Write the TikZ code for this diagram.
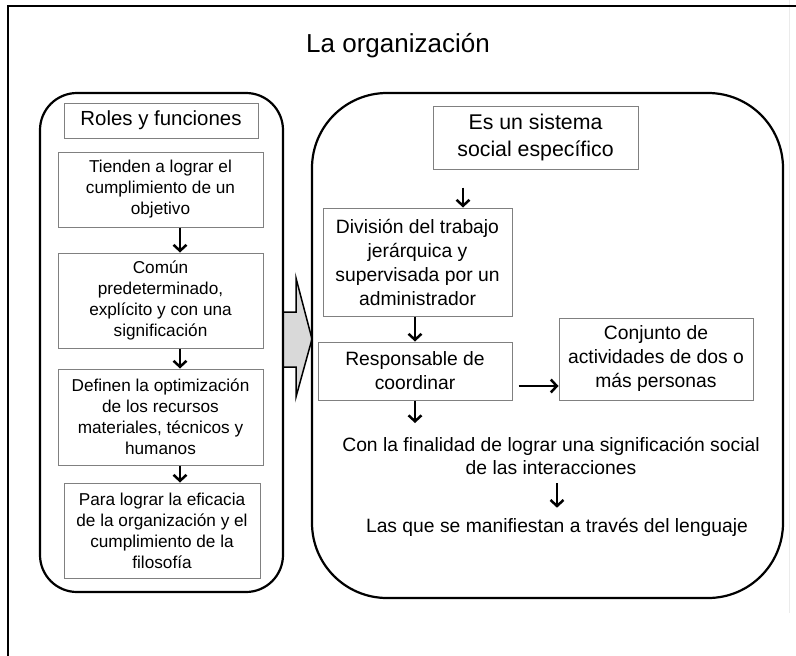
\documentclass[tikz,border=0pt]{standalone}
\usepackage{fontspec}
\setmainfont{Liberation Sans}
\usetikzlibrary{arrows.meta}
\begin{document}
\begin{tikzpicture}[x=1pt,y=-1pt,
  box/.style={draw=black!50, line width=1pt, align=center, inner sep=0pt, fill=white},
  lfont/.style={font=\fontsize{17.2}{21}\selectfont},
  rfont/.style={font=\fontsize{19.3}{24}\selectfont},
  plain/.style={align=center, inner sep=0pt, font=\fontsize{19.3}{23.2}\selectfont},
  cont/.style={draw=black, line width=2.2pt},
  arr/.style={line width=2.5pt, -{Straight Barb[length=6pt,width=13pt]}},
  bigarrow/.style={draw=black, line width=1.5pt, fill=black!15, line join=miter}
]
\useasboundingbox (0,0) rectangle (796,656);
\fill[white] (0,0) rectangle (796,656);
\draw[black!8, line width=1pt] (789,0) -- (789,613);
\draw[line width=2.2pt] (8,656) -- (8,6) -- (796,6);

% title
\node[inner sep=0pt, font=\fontsize{26}{31}\selectfont] (title) at (398,45.5) {La organización};

% block arrow between the containers
\draw[bigarrow] (283,312) -- (296,312) -- (296,278) -- (312,339) -- (296,397) -- (296,367) -- (283,367) -- cycle;

% containers
\node[cont, rounded corners=37pt, minimum width=243pt, minimum height=499pt] (lc) at (161.5,342.5) {};
\node[cont, rounded corners=75pt, minimum width=471pt, minimum height=505pt] (rc) at (547.5,345.5) {};

% left column
\node[box, minimum width=194pt, minimum height=35pt, font=\fontsize{20.4}{24}\selectfont] (roles) at (161,120.5) {Roles y funciones};
\node[box, lfont, minimum width=205pt, minimum height=75pt] (tienden) at (160.5,189.5) {Tienden a lograr el\\cumplimiento de un\\objetivo};
\node[box, lfont, minimum width=205pt, minimum height=95pt] (comun) at (160.5,300.5) {Común\\predeterminado,\\explícito y con una\\significación};
\node[box, lfont, minimum width=205pt, minimum height=96pt] (definen) at (160.5,417) {Definen la optimización\\de los recursos\\materiales, técnicos y\\humanos};
\node[box, lfont, minimum width=196pt, minimum height=95pt] (para) at (162,530.5) {Para lograr la eficacia\\de la organización y el\\cumplimiento de la\\filosofía};

\coordinate (la) at (180,0);
\draw[arr] (tienden.south -| la) -- (comun.north -| la);
\draw[arr] (comun.south -| la) -- (definen.north -| la);
\draw[arr] (definen.south -| la) -- (para.north -| la);

% right column
\node[box, minimum width=205pt, minimum height=63pt, font=\fontsize{21.3}{27}\selectfont] (es) at (535.5,137.5) {Es un sistema\\social específico};
\node[box, rfont, minimum width=189pt, minimum height=108pt] (div) at (417.5,262) {División del trabajo\\jerárquica y\\supervisada por un\\administrador};
\node[box, rfont, minimum width=194pt, minimum height=58pt] (resp) at (415,371) {Responsable de\\coordinar};
\node[box, rfont, minimum width=194pt, minimum height=82pt] (conj) at (656,359) {Conjunto de\\actividades de dos o\\más personas};
\node[plain] (fin) at (551,456) {Con la finalidad de lograr una significación social\\de las interacciones};
\node[plain] (las) at (557,527) {Las que se manifiestan a través del lenguaje};

\coordinate (ra) at (463,0);
\coordinate (rb) at (415,0);
\coordinate (rc) at (557,0);
\coordinate (ry) at (0,386);
\draw[arr, shorten <=18pt] (es.south -| ra) -- (div.north -| ra);
\draw[arr] (div.south -| rb) -- (resp.north -| rb);
\draw[arr, shorten >=14pt] (resp.south -| rb) -- (fin.north -| rb);
\draw[arr, shorten <=6pt] (resp.east |- ry) -- (conj.west |- ry);
\draw[arr, shorten <=8pt, shorten >=10pt] (fin.south -| rc) -- (las.north -| rc);
\end{tikzpicture}
\end{document}
